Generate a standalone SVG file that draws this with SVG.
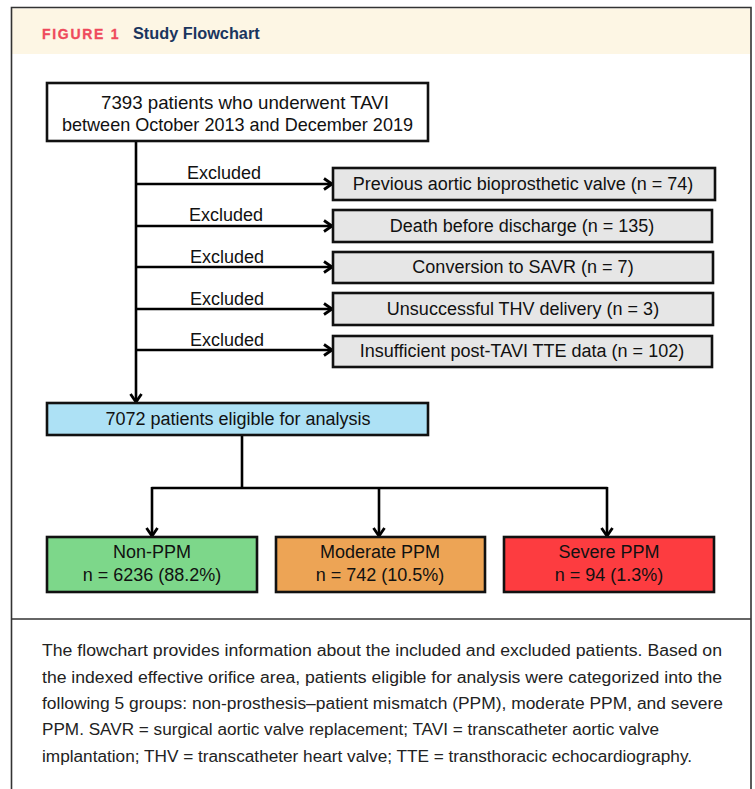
<svg xmlns="http://www.w3.org/2000/svg" width="755" height="789" viewBox="0 0 755 789">
<defs>
<marker id="arr" markerWidth="14" markerHeight="14" refX="10" refY="7" orient="auto" markerUnits="userSpaceOnUse">
<path d="M2,1.5 L10,7 L2,12.5" fill="none" stroke="#000" stroke-width="2.8"/>
</marker>
<style>
.box{stroke:#111;stroke-width:2.6}
.t{font-family:"Liberation Sans",Arial,sans-serif;font-size:18px;fill:#111;text-anchor:middle}
.c{stroke:#000;stroke-width:2.6;fill:none}
.cap{font-family:"Liberation Sans",Arial,sans-serif;font-size:16px;fill:#222}
</style>
</defs>
<rect x="0" y="0" width="755" height="789" fill="#fff"/>
<rect x="12" y="8.5" width="739" height="45.5" fill="#fdf6e4"/>
<path d="M11.5,789 V7.5 H751 V789" fill="none" stroke="#333" stroke-width="1.6"/>
<line x1="11.5" y1="619" x2="751" y2="619" stroke="#333" stroke-width="1.6"/>
<text x="42" y="39" font-family="'Liberation Sans',Arial,sans-serif" font-size="14" font-weight="bold" fill="#ef4a5c" letter-spacing="1.7" stroke="#ef4a5c" stroke-width="0.3">FIGURE 1</text>
<text x="133" y="39" font-family="'Liberation Sans',Arial,sans-serif" font-size="16.3" font-weight="bold" fill="#1a355e">Study Flowchart</text>

<g id="connectors">
<line class="c" x1="136" y1="142" x2="136" y2="402" marker-end="url(#arr)"/>
<line class="c" x1="136" y1="184" x2="332" y2="184" marker-end="url(#arr)"/>
<line class="c" x1="136" y1="226" x2="332" y2="226" marker-end="url(#arr)"/>
<line class="c" x1="136" y1="267" x2="332" y2="267" marker-end="url(#arr)"/>
<line class="c" x1="136" y1="309" x2="332" y2="309" marker-end="url(#arr)"/>
<line class="c" x1="136" y1="350" x2="332" y2="350" marker-end="url(#arr)"/>
<text class="t" x="224" y="179">Excluded</text>
<text class="t" x="226" y="221">Excluded</text>
<text class="t" x="227" y="263">Excluded</text>
<text class="t" x="227" y="305">Excluded</text>
<text class="t" x="227" y="346">Excluded</text>
<line class="c" x1="242" y1="435" x2="242" y2="488"/>
<line class="c" x1="151.5" y1="488" x2="607.5" y2="488"/>
<line class="c" x1="152" y1="487" x2="152" y2="536" marker-end="url(#arr)"/>
<line class="c" x1="379" y1="487" x2="379" y2="536" marker-end="url(#arr)"/>
<line class="c" x1="607" y1="487" x2="607" y2="536" marker-end="url(#arr)"/>
</g>

<g id="start">
<rect class="box" x="47" y="83" width="381" height="58" fill="#fff"/>
<text class="t" x="245" y="109" style="font-size:18.6px" textLength="288" lengthAdjust="spacingAndGlyphs">7393 patients who underwent TAVI</text>
<text class="t" x="237.5" y="131" style="font-size:18.6px" textLength="351" lengthAdjust="spacingAndGlyphs">between October 2013 and December 2019</text>
</g>
<g id="ex1">
<rect class="box" x="333" y="168" width="382" height="32" fill="#e6e6e6"/>
<text class="t" x="523" y="190">Previous aortic bioprosthetic valve (n = 74)</text>
</g>
<g id="ex2">
<rect class="box" x="333" y="210" width="379" height="32" fill="#e6e6e6"/>
<text class="t" x="522" y="232">Death before discharge (n = 135)</text>
</g>
<g id="ex3">
<rect class="box" x="333" y="252" width="380" height="31" fill="#e6e6e6"/>
<text class="t" x="523" y="273">Conversion to SAVR (n = 7)</text>
</g>
<g id="ex4">
<rect class="box" x="333" y="293" width="380" height="32" fill="#e6e6e6"/>
<text class="t" x="523" y="315">Unsuccessful THV delivery (n = 3)</text>
</g>
<g id="ex5">
<rect class="box" x="333" y="336" width="379" height="31" fill="#e6e6e6"/>
<text class="t" x="522" y="357">Insufficient post-TAVI TTE data (n = 102)</text>
</g>
<g id="eligible">
<rect class="box" x="47" y="403" width="381" height="32" fill="#ade1f5"/>
<text class="t" x="238" y="425">7072 patients eligible for analysis</text>
</g>
<g id="nonppm">
<rect class="box" x="47" y="537" width="210" height="55" fill="#7dd78a"/>
<text class="t" x="152" y="558">Non-PPM</text>
<text class="t" x="152" y="581">n = 6236 (88.2%)</text>
</g>
<g id="modppm">
<rect class="box" x="276" y="537" width="209" height="55" fill="#eda455"/>
<text class="t" x="380" y="558">Moderate PPM</text>
<text class="t" x="380" y="581">n = 742 (10.5%)</text>
</g>
<g id="sevppm">
<rect class="box" x="504" y="537" width="210" height="55" fill="#fd3c40"/>
<text class="t" x="609" y="558">Severe PPM</text>
<text class="t" x="609" y="581">n = 94 (1.3%)</text>
</g>

<g id="caption">
<text class="cap" x="42" y="656" textLength="680" lengthAdjust="spacingAndGlyphs">The flowchart provides information about the included and excluded patients. Based on</text>
<text class="cap" x="42" y="683" textLength="680" lengthAdjust="spacingAndGlyphs">the indexed effective orifice area, patients eligible for analysis were categorized into the</text>
<text class="cap" x="42" y="709" textLength="681" lengthAdjust="spacingAndGlyphs">following 5 groups: non-prosthesis–patient mismatch (PPM), moderate PPM, and severe</text>
<text class="cap" x="42" y="735" textLength="617" lengthAdjust="spacingAndGlyphs">PPM. SAVR = surgical aortic valve replacement; TAVI = transcatheter aortic valve</text>
<text class="cap" x="42" y="762" textLength="650" lengthAdjust="spacingAndGlyphs">implantation; THV = transcatheter heart valve; TTE = transthoracic echocardiography.</text>
</g>
</svg>
